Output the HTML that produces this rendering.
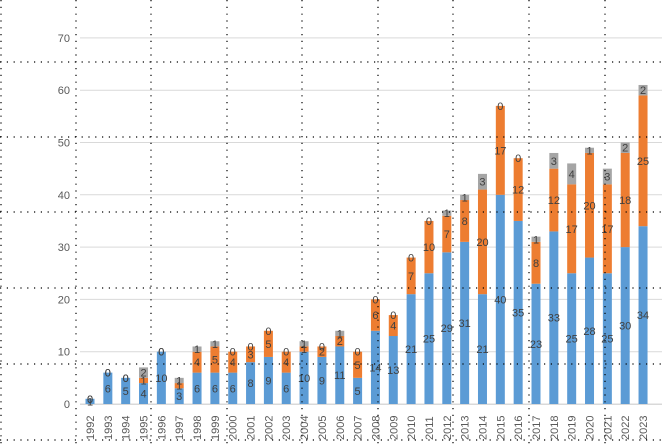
<!DOCTYPE html>
<html><head><meta charset="utf-8"><style>
body{margin:0;background:#fff;width:666px;height:447px;overflow:hidden}
svg{display:block;font-family:"Liberation Sans",sans-serif}
</style></head><body>
<svg id="c" width="666" height="447" xmlns="http://www.w3.org/2000/svg"></svg>
<script>
const d=[[1,0,0],[6,0,0],[5,0,0],[4,1,2],[10,0,0],[3,1,1],[6,4,1],[6,5,1],[6,4,0],[8,3,0],[9,5,0],[6,4,0],[10,1,1],[9,2,0],[11,2,1],[5,5,0],[14,6,0],[13,4,0],[21,7,0],[25,10,0],[29,7,1],[31,8,1],[21,20,3],[40,17,0],[35,12,0],[23,8,1],[33,12,3],[25,17,4],[28,20,1],[25,17,3],[30,18,2],[34,25,2]];
const cols=["#5B9BD5","#ED7D31","#A5A5A5"];
const y0=404,k=52.3/10,x0=90,dx=17.84,bw=9;
let s="";
for(let i=0;i<=7;i++){const y=y0-i*10*k;s+=`<line x1="80" x2="662" y1="${y}" y2="${y}" stroke="#d9d9d9" stroke-width="1"/>`;
s+=`<text x="70" y="${y+4}" text-anchor="end" font-size="11" fill="#595959">${i*10}</text>`;}
let lab="";
d.forEach((v,i)=>{const cx=x0+i*dx;let acc=0;
v.forEach((h,j)=>{const top=y0-(acc+h)*k;
if(h>0)s+=`<rect x="${cx-bw/2}" y="${top}" width="${bw}" height="${h*k}" fill="${cols[j]}"/>`;
const ly=y0-(acc+h/2)*k;
lab+=`<text x="${cx}" y="${ly+4}" text-anchor="middle" font-size="11" fill="#404040">${h}</text>`;
acc+=h;});
s+=`<text transform="translate(${cx+4},440) rotate(-90)" font-size="11" fill="#595959">${1992+i}</text>`;
});
s+=`<line x1="80" x2="662" y1="404.5" y2="404.5" stroke="#d9d9d9"/>`;
s+=lab;
for(let x of [1,76,151,227,302,378,453,529,605])s+=`<line x1="${x}" x2="${x}" y1="0" y2="447" stroke="#000" stroke-width="1.2" stroke-dasharray="1.2 5.6"/>`;
for(let y of [62,137,212,288,364,440])s+=`<line x1="0" x2="666" y1="${y}" y2="${y}" stroke="#000" stroke-width="1.2" stroke-dasharray="1.2 5.6"/>`;
document.getElementById("c").innerHTML=s;
</script>
</body></html>
